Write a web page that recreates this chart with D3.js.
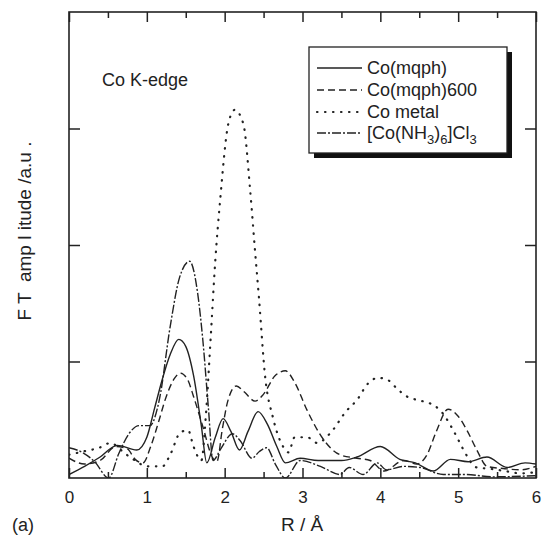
<!DOCTYPE html>
<html><head><meta charset="utf-8">
<script src="https://cdn.jsdelivr.net/npm/d3@7"></script>
<style>
html,body{margin:0;padding:0;background:#fff;}
text{font-family:"Liberation Sans",Arial,Helvetica,sans-serif;fill:#222;}
</style></head>
<body>
<svg id="chart" width="542" height="542"></svg>
<script>
// ---- data ----
const seriesNames = ["Co(mqph)", "Co(mqph)600", "Co metal", "[Co(NH3)6]Cl3"];

const r_mqph = [0,0.2,0.4,0.62,0.87,1.0,1.1,1.2,1.3,1.41,1.5,1.6,1.7,1.77,1.88,1.98,2.08,2.19,2.3,2.43,2.55,2.67,2.78,2.97,3.2,3.5,3.7,4.0,4.25,4.45,4.68,4.9,5.13,5.37,5.63,5.86,6.0];
const v_mqph = [0.03,0.1,0.18,0.28,0.24,0.35,0.6,0.85,1.06,1.19,1.13,0.88,0.45,0.13,0.35,0.51,0.4,0.24,0.4,0.57,0.46,0.27,0.13,0.17,0.15,0.15,0.18,0.27,0.16,0.13,0.06,0.16,0.14,0.18,0.09,0.13,0.12];

const r_600 = [0,0.2,0.4,0.6,0.75,0.85,0.95,1.05,1.15,1.25,1.35,1.43,1.52,1.6,1.72,1.84,1.9,1.97,2.04,2.15,2.25,2.39,2.5,2.65,2.78,2.9,3.06,3.27,3.48,3.7,3.87,4.05,4.3,4.47,4.6,4.72,4.87,5.0,5.12,5.24,5.37,5.6,5.8,6.0];
const v_600 = [0.17,0.12,0.15,0.27,0.25,0.16,0.13,0.27,0.48,0.7,0.85,0.9,0.85,0.7,0.44,0.18,0.14,0.42,0.66,0.79,0.74,0.66,0.72,0.88,0.92,0.82,0.58,0.33,0.2,0.17,0.15,0.06,0.15,0.12,0.2,0.4,0.59,0.53,0.4,0.24,0.1,0.08,0.07,0.1];

const r_metal = [0,0.2,0.39,0.53,0.72,0.85,1.0,1.2,1.3,1.43,1.53,1.6,1.7,1.76,1.82,1.88,1.94,2.05,2.13,2.24,2.33,2.39,2.44,2.52,2.62,2.75,2.82,2.9,3.06,3.19,3.35,3.57,3.7,3.84,3.97,4.1,4.21,4.34,4.47,4.64,4.77,4.92,5.0,5.07,5.24,5.4,5.6,5.8,6.0];
const v_metal = [0.2,0.23,0.26,0.3,0.21,0.15,0.1,0.1,0.2,0.39,0.41,0.27,0.15,0.55,1.2,1.87,2.37,3.05,3.16,3.04,2.45,1.95,1.55,0.87,0.52,0.27,0.22,0.35,0.35,0.3,0.38,0.58,0.67,0.81,0.86,0.84,0.77,0.7,0.67,0.64,0.58,0.43,0.33,0.24,0.09,0.08,0.06,0.04,0.05];

const r_nh3 = [0,0.17,0.33,0.51,0.64,0.77,0.9,1.04,1.16,1.3,1.42,1.55,1.65,1.72,1.79,1.85,1.95,2.1,2.2,2.35,2.45,2.54,2.65,2.78,2.97,3.23,3.48,3.6,3.78,3.96,4.08,4.3,4.51,4.81,5.1,5.45,6.0];
const v_nh3 = [0.26,0.22,0.14,0.0,0.21,0.38,0.45,0.45,0.67,1.3,1.72,1.86,1.6,1.18,0.61,0.15,0.25,0.38,0.32,0.17,0.23,0.26,0.12,0.0,0.15,0.1,0.03,0.09,0.03,0.13,0.07,0.1,0.09,0.03,0.03,0.01,0.02];

const xTicks = [0,1,2,3,4,5,6];
const xMinorTicks = [0.5,1.5,2.5,3.5,4.5,5.5];
const yTicks = [1,2,3];

// ---- layout ----
const svg = d3.select("#chart");
const L = 69, R = 536, T = 12, B = 478;
const x = d3.scaleLinear().domain([0,6]).range([L,R]);
const y = d3.scaleLinear().domain([0,4]).range([B,T]);

const styles = [
  {dash:null, w:1.4, cap:"butt"},
  {dash:"7,4", w:1.4, cap:"butt"},
  {dash:"0.5,7.5", w:2.2, cap:"round"},
  {dash:"9,2,2,2", w:1.4, cap:"butt"}
];
const data = [
  d3.zip(r_mqph, v_mqph),
  d3.zip(r_600, v_600),
  d3.zip(r_metal, v_metal),
  d3.zip(r_nh3, v_nh3)
];

const line = d3.line().x(d=>x(d[0])).y(d=>y(d[1])).curve(d3.curveMonotoneX);

svg.append("defs").append("clipPath").attr("id","clip")
  .append("rect").attr("x",L).attr("y",T).attr("width",R-L).attr("height",B-T);

const g = svg.append("g").attr("clip-path","url(#clip)");
data.forEach((d,i)=>{
  g.append("path").attr("d",line(d)).attr("fill","none")
    .attr("stroke","#222").attr("stroke-width",styles[i].w)
    .attr("stroke-linecap",styles[i].cap)
    .attr("stroke-dasharray",styles[i].dash);
});

// axes (inward ticks)
const axB = d3.axisBottom(x).tickValues(xTicks).tickSizeInner(-10).tickSizeOuter(0).tickPadding(13).tickFormat(d3.format("d"));
const gB = svg.append("g").attr("transform",`translate(0,${B})`).call(axB);
gB.selectAll("text").attr("font-size",17).style("font-family","'Liberation Sans',Arial,sans-serif").attr("fill","#222");
const axBm = d3.axisBottom(x).tickValues(xMinorTicks).tickSizeInner(-6).tickSizeOuter(0).tickFormat("");
svg.append("g").attr("transform",`translate(0,${B})`).call(axBm);
const axT = d3.axisTop(x).tickValues(xTicks).tickSizeInner(-10).tickSizeOuter(0).tickFormat("");
svg.append("g").attr("transform",`translate(0,${T})`).call(axT);
const axTm = d3.axisTop(x).tickValues(xMinorTicks).tickSizeInner(-6).tickSizeOuter(0).tickFormat("");
svg.append("g").attr("transform",`translate(0,${T})`).call(axTm);
const axL = d3.axisLeft(y).tickValues(yTicks).tickSizeInner(-11).tickSizeOuter(0).tickFormat("");
svg.append("g").attr("transform",`translate(${L},0)`).call(axL);
const axR = d3.axisRight(y).tickValues(yTicks).tickSizeInner(-11).tickSizeOuter(0).tickFormat("");
svg.append("g").attr("transform",`translate(${R},0)`).call(axR);
svg.selectAll(".domain").remove();
svg.selectAll(".tick line").attr("stroke","#222").attr("stroke-width",1.5);

// frame
svg.append("rect").attr("x",L).attr("y",T).attr("width",R-L).attr("height",B-T)
  .attr("fill","none").attr("stroke","#222").attr("stroke-width",1.6);

// texts
svg.append("text").attr("x",102).attr("y",86).attr("font-size",18).text("Co K-edge");
svg.append("text").attr("x",302).attr("y",531).attr("font-size",19).attr("text-anchor","middle")
  .style("white-space","pre").text("R / Å");
svg.append("text").attr("x",12).attr("y",531).attr("font-size",18).text("(a)");
svg.append("text").attr("transform","translate(31,231) rotate(-90)").attr("font-size",19)
  .attr("text-anchor","middle").style("white-space","pre").text("F T  amp l itude /a.u .");

// legend
const lx = 309, ly = 47, lw = 198, lh = 106;
svg.append("rect").attr("x",lx+5).attr("y",ly+5).attr("width",lw).attr("height",lh).attr("fill","#111");
svg.append("rect").attr("x",lx).attr("y",ly).attr("width",lw).attr("height",lh).attr("fill","#fff")
  .attr("stroke","#222").attr("stroke-width",1.3);
const rowsY = [68,90,112,133];
seriesNames.forEach((name,i)=>{
  svg.append("line").attr("x1",317).attr("x2",362).attr("y1",rowsY[i]).attr("y2",rowsY[i])
    .attr("stroke","#222").attr("stroke-width",styles[i].w)
    .attr("stroke-linecap",styles[i].cap)
    .attr("stroke-dasharray",styles[i].dash);
  const t = svg.append("text").attr("x",367).attr("y",rowsY[i]+6).attr("font-size",18);
  if (i===3){
    t.append("tspan").text("[Co(NH");
    t.append("tspan").attr("font-size",13).attr("dy",5).text("3");
    t.append("tspan").attr("dy",-5).text(")");
    t.append("tspan").attr("font-size",13).attr("dy",5).text("6");
    t.append("tspan").attr("dy",-5).text("]Cl");
    t.append("tspan").attr("font-size",13).attr("dy",5).text("3");
  } else {
    t.text(name);
  }
});
</script>
</body></html>
